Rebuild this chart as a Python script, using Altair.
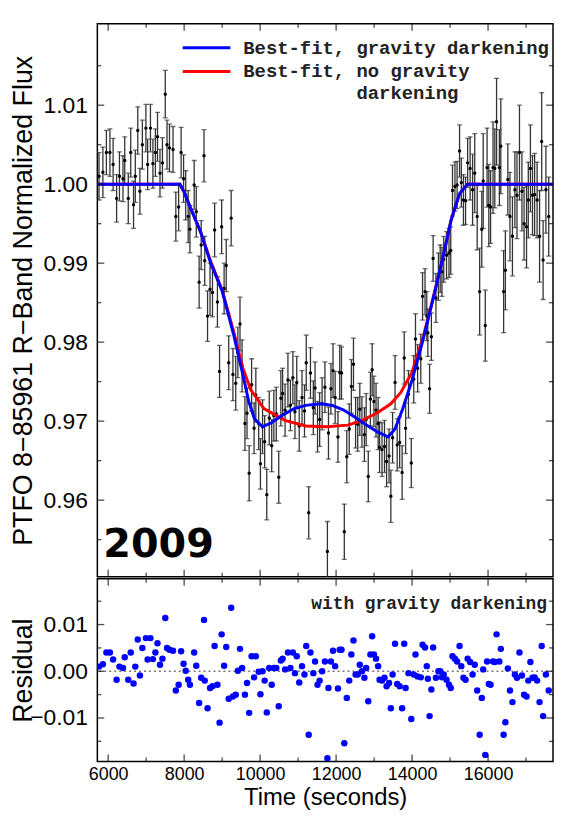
import altair as alt
import pandas as pd

# ---------------- data ----------------
TIME = [5759, 5861, 5953, 6046, 6130, 6222, 6297, 6390, 6436, 6529,
        6594, 6668, 6714, 6779, 6835, 6900, 6993, 7039, 7113, 7178,
        7243, 7299, 7364, 7429, 7503, 7549, 7614, 7707, 7781, 7855,
        7920, 7985, 8041, 8106, 8152, 8264, 8319, 8394, 8449, 8523,
        8542, 8616, 8681, 8746, 8802, 8876, 8932, 8987, 9052, 9108,
        9173, 9238, 9284, 9358, 9414, 9470, 9525, 9600, 9655, 9711,
        9776, 9841, 9887, 9962, 10008, 10064, 10119, 10175, 10240, 10305,
        10361, 10425, 10490, 10546, 10592, 10657, 10732, 10797, 10862, 10917,
        10964, 11029, 11103, 11168, 11214, 11279, 11325, 11400, 11446, 11511,
        11567, 11632, 11706, 11771, 11799, 11864, 11919, 11975, 12049, 12095,
        12142, 12216, 12281, 12346, 12402, 12457, 12513, 12569, 12624, 12680,
        12745, 12791, 12847, 12903, 12949, 12995, 13051, 13107, 13144, 13209,
        13274, 13329, 13394, 13441, 13487, 13552, 13608, 13673, 13738, 13793,
        13830, 13905, 13979, 14044, 14090, 14146, 14229, 14276, 14341, 14387,
        14415, 14461, 14508, 14554, 14628, 14693, 14740, 14786, 14833, 14907,
        14972, 15018, 15064, 15129, 15185, 15250, 15296, 15352, 15408, 15463,
        15528, 15593, 15649, 15714, 15779, 15835, 15872, 15927, 15974, 16020,
        16066, 16131, 16178, 16224, 16298, 16336, 16410, 16456, 16521, 16577,
        16642, 16706, 16762, 16827, 16892, 16948, 17013, 17059, 17115, 17170,
        17226, 17291, 17356, 17412, 17449, 17523, 17597]

FLUX = [1.0010, 1.0015, 1.0040, 1.0040, 1.0025, 0.9982, 1.0010, 1.0007, 1.0030, 0.9982,
        1.0040, 0.9974, 1.0010, 1.0068, 0.9991, 1.0050, 1.0071, 1.0025, 1.0071, 1.0026,
        1.0040, 1.0060, 1.0014, 1.0027, 1.0114, 1.0050, 1.0046, 1.0044, 0.9959, 0.9971,
        1.0040, 1.0007, 0.9986, 0.9959, 0.9943, 0.9999, 0.9965, 0.9876, 0.9923, 1.0036,
        0.9903, 0.9833, 0.9867, 0.9863, 0.9942, 0.9851, 0.9763, 0.9946, 0.9868, 0.9897,
        0.9774, 0.9957, 0.9759, 0.9748, 0.9787, 0.9823, 0.9770, 0.9697, 0.9710, 0.9634,
        0.9746, 0.9691, 0.9733, 0.9697, 0.9646, 0.9693, 0.9674, 0.9607, 0.9704, 0.9669,
        0.9707, 0.9709, 0.9629, 0.9729, 0.9735, 0.9714, 0.9752, 0.9720, 0.9755, 0.9712,
        0.9749, 0.9694, 0.9730, 0.9713, 0.9774, 0.9584, 0.9761, 0.9717, 0.9742, 0.9693,
        0.9702, 0.9722, 0.9743, 0.9535, 0.9685, 0.9741, 0.9764, 0.9730, 0.9680, 0.9762,
        0.9761, 0.9560, 0.9655, 0.9690, 0.9744, 0.9772, 0.9698, 0.9696, 0.9715, 0.9699,
        0.9683, 0.9702, 0.9630, 0.9728, 0.9765, 0.9725, 0.9714, 0.9697, 0.9667, 0.9664,
        0.9668, 0.9649, 0.9656, 0.9605, 0.9679, 0.9749, 0.9670, 0.9673, 0.9635, 0.9780,
        0.9691, 0.9734, 0.9647, 0.9753, 0.9804, 0.9767, 0.9779, 0.9858, 0.9864, 0.9833,
        0.9812, 0.9741, 0.9807, 0.9906, 0.9856, 0.9883, 0.9893, 0.9889, 0.9905, 0.9910,
        0.9913, 0.9916, 0.9992, 0.9997, 0.9999, 1.0042, 1.0002, 0.9980, 0.9979, 1.0027,
        1.0020, 0.9993, 1.0014, 0.9959, 0.9864, 0.9943, 1.0004, 0.9821, 1.0021, 0.9973,
        0.9971, 1.0021, 1.0020, 1.0079, 1.0021, 1.0048, 0.9864, 0.9891, 1.0006, 0.9959,
        0.9934, 0.9993, 0.9986, 1.0040, 0.9991, 0.9950, 0.9946, 0.9980, 1.0020, 0.9986,
        0.9987, 0.9980, 0.9934, 1.0054, 0.9904, 0.9993, 0.9959]

FLUX_ERR = [0.0030, 0.0032, 0.0028, 0.0030, 0.0033, 0.0030, 0.0031, 0.0029, 0.0030, 0.0032,
            0.0031, 0.0030, 0.0033, 0.0030, 0.0029, 0.0031, 0.0030, 0.0032, 0.0030, 0.0031,
            0.0030, 0.0031, 0.0030, 0.0032, 0.0030, 0.0031, 0.0030, 0.0029, 0.0031, 0.0030,
            0.0032, 0.0030, 0.0031, 0.0033, 0.0030, 0.0031, 0.0032, 0.0033, 0.0031, 0.0033,
            0.0031, 0.0032, 0.0033, 0.0031, 0.0034, 0.0032, 0.0033, 0.0034, 0.0032, 0.0033,
            0.0034, 0.0035, 0.0033, 0.0034, 0.0032, 0.0034, 0.0033, 0.0034, 0.0032, 0.0035,
            0.0033, 0.0032, 0.0034, 0.0033, 0.0032, 0.0034, 0.0033, 0.0032, 0.0034, 0.0033,
            0.0032, 0.0034, 0.0033, 0.0035, 0.0032, 0.0033, 0.0034, 0.0032, 0.0033, 0.0034,
            0.0033, 0.0032, 0.0034, 0.0033, 0.0035, 0.0033, 0.0032, 0.0034, 0.0033, 0.0032,
            0.0034, 0.0033, 0.0032, 0.0038, 0.0033, 0.0032, 0.0034, 0.0033, 0.0032, 0.0034,
            0.0033, 0.0035, 0.0033, 0.0032, 0.0034, 0.0033, 0.0032, 0.0034, 0.0033, 0.0032,
            0.0034, 0.0033, 0.0032, 0.0034, 0.0033, 0.0032, 0.0034, 0.0033, 0.0032, 0.0034,
            0.0033, 0.0032, 0.0034, 0.0033, 0.0032, 0.0034, 0.0033, 0.0032, 0.0034, 0.0033,
            0.0032, 0.0030, 0.0031, 0.0030, 0.0032, 0.0030, 0.0031, 0.0030, 0.0029, 0.0031,
            0.0030, 0.0031, 0.0030, 0.0029, 0.0031, 0.0030, 0.0030, 0.0031, 0.0029, 0.0030,
            0.0031, 0.0030, 0.0032, 0.0031, 0.0030, 0.0033, 0.0031, 0.0032, 0.0030, 0.0031,
            0.0040, 0.0045, 0.0050, 0.0042, 0.0055, 0.0048, 0.0060, 0.0045, 0.0050, 0.0052,
            0.0046, 0.0058, 0.0050, 0.0055, 0.0048, 0.0060, 0.0052, 0.0050, 0.0045, 0.0056,
            0.0050, 0.0048, 0.0055, 0.0060, 0.0050, 0.0046, 0.0052, 0.0048, 0.0055, 0.0050,
            0.0052, 0.0048, 0.0058, 0.0062, 0.0050, 0.0055, 0.0050]

RESID = [0.0010, 0.0015, 0.0040, 0.0040, 0.0025, -0.0018, 0.0010, 0.0007, 0.0030, -0.0018,
         0.0040, -0.0026, 0.0010, 0.0068, -0.0009, 0.0050, 0.0071, 0.0025, 0.0071, 0.0026,
         0.0040, 0.0060, 0.0014, 0.0027, 0.0114, 0.0050, 0.0046, 0.0044, -0.0041, -0.0029,
         0.0043, 0.0016, 0.0001, -0.0018, -0.0029, 0.0040, 0.0012, -0.0068, -0.0014, 0.0110,
         -0.0020, -0.0079, -0.0036, -0.0032, 0.0054, -0.0029, -0.0110, 0.0079, 0.0012, 0.0052,
         -0.0059, 0.0136, -0.0054, -0.0050, 0.0001, 0.0048, 0.0007, -0.0050, -0.0025, -0.0089,
         0.0032, -0.0013, 0.0032, -0.0001, -0.0049, 0.0000, -0.0020, -0.0088, 0.0007, -0.0029,
         0.0007, 0.0007, -0.0075, 0.0023, 0.0027, 0.0004, 0.0040, 0.0007, 0.0040, -0.0004,
         0.0032, -0.0024, 0.0011, -0.0007, 0.0054, -0.0136, 0.0040, -0.0004, 0.0021, -0.0029,
         -0.0020, 0.0000, 0.0021, -0.0186, -0.0036, 0.0021, 0.0044, 0.0011, -0.0037, 0.0046,
         0.0046, -0.0154, -0.0057, -0.0020, 0.0036, 0.0066, -0.0007, -0.0007, 0.0014, 0.0000,
         -0.0014, 0.0007, -0.0064, 0.0036, 0.0075, 0.0036, 0.0027, 0.0011, -0.0018, -0.0020,
         -0.0014, -0.0032, -0.0025, -0.0079, -0.0007, 0.0059, -0.0027, -0.0032, -0.0079, 0.0059,
         -0.0036, -0.0004, -0.0102, -0.0007, 0.0036, -0.0011, -0.0013, 0.0057, 0.0051, 0.0011,
         -0.0016, -0.0096, -0.0039, 0.0051, -0.0014, 0.0000, 0.0000, -0.0013, -0.0007, -0.0018,
         -0.0029, -0.0036, 0.0032, 0.0027, 0.0021, 0.0054, 0.0011, -0.0014, -0.0018, 0.0027,
         0.0020, -0.0007, 0.0014, -0.0041, -0.0136, -0.0057, 0.0004, -0.0179, 0.0021, -0.0027,
         -0.0029, 0.0021, 0.0020, 0.0079, 0.0021, 0.0048, -0.0136, -0.0109, 0.0006, -0.0041,
         -0.0066, -0.0007, -0.0014, 0.0040, -0.0009, -0.0050, -0.0054, -0.0020, 0.0020, -0.0014,
         -0.0013, -0.0020, -0.0066, 0.0054, -0.0096, -0.0007, -0.0041]

# best-fit model, gravity darkening (blue)
BLUE_T = [5715, 7890, 8000, 8150, 8430, 8700, 9000, 9300, 9540, 9700, 9850, 10060,
          10300, 10600, 10900, 11200, 11600, 11900, 12200, 12500, 12800, 13100, 13370,
          13550, 13750, 14000, 14300, 14560, 14800, 15030, 15250, 15460, 17710]
BLUE_F = [1.0000, 1.0000, 0.9990, 0.9972, 0.9940, 0.9900, 0.9865, 0.9810, 0.9760, 0.9725,
          0.9703, 0.9693, 0.9698, 0.9708, 0.9716, 0.9720, 0.9722, 0.9720, 0.9714, 0.9705,
          0.9695, 0.9686, 0.9680, 0.9690, 0.9715, 0.9752, 0.9805, 0.9856, 0.9905, 0.9955,
          0.9988, 1.0000, 1.0000]

# best-fit model, no gravity darkening (red)
RED_T = [5715, 7890, 8000, 8150, 8430, 8700, 9000, 9300, 9540, 9750, 10100, 10650,
         11200, 11760, 12300, 12650, 13100, 13440, 13700, 14000, 14300, 14560, 14800,
         15030, 15250, 15460, 17710]
RED_F = [1.0000, 1.0000, 0.9990, 0.9972, 0.9940, 0.9902, 0.9866, 0.9814, 0.9768, 0.9740,
         0.9716, 0.9701, 0.9694, 0.9693, 0.9695, 0.9700, 0.9711, 0.9722, 0.9736, 0.9762,
         0.9808, 0.9857, 0.9905, 0.9955, 0.9988, 1.0000, 1.0000]

X_TICKS = [6000, 8000, 10000, 12000, 14000, 16000]
X_MINOR = [7000, 9000, 11000, 13000, 15000, 17000]
FLUX_TICKS = [0.96, 0.97, 0.98, 0.99, 1.00, 1.01]
FLUX_MINOR = [0.955, 0.965, 0.975, 0.985, 0.995, 1.005, 1.015]
RES_TICKS = [-0.01, 0.00, 0.01]
RES_MINOR = [-0.015, -0.005, 0.005, 0.015]
ZERO_LEVEL = [0.0]
LEGEND_LABELS = ["Best-fit, gravity darkening", "Best-fit, no gravity", "darkening"]
YEAR_LABEL = "2009"
RES_LABEL = "with gravity darkening"

X_DOMAIN = [5715, 17710]
FLUX_DOMAIN = [0.9503, 1.0203]
RES_DOMAIN = [-0.0193, 0.0198]

# ---------------- chart ----------------
FONT = "Liberation Sans"
MONO = "Liberation Mono"
TICK = 7
MINOR = 4
W = 459
H_TOP = 557
H_BOT = 184

df = pd.DataFrame({"t": TIME, "flux": FLUX, "err": FLUX_ERR, "resid": RESID})
df["lo"] = df["flux"] - df["err"]
df["hi"] = df["flux"] + df["err"]
blue_df = pd.DataFrame({"t": BLUE_T, "f": BLUE_F})
red_df = pd.DataFrame({"t": RED_T, "f": RED_F})

xs = alt.Scale(domain=X_DOMAIN, nice=False, zero=False)
ys = alt.Scale(domain=FLUX_DOMAIN, nice=False, zero=False)
ys2 = alt.Scale(domain=RES_DOMAIN, nice=False, zero=False)


def left_axis(values, title):
    return alt.Axis(orient="left", values=values, format=".2f", labels=True,
                    labelFontSize=23, labelPadding=10, ticks=False, domain=False,
                    grid=False, title=title, titleFontSize=27, titlePadding=2,
                    minExtent=58, maxExtent=58)


AX_X_TOP = alt.Axis(orient="bottom", values=X_TICKS, labels=False, ticks=False,
                    domain=False, grid=False, title="", titlePadding=0,
                    minExtent=0, maxExtent=0)
AX_X_BOT = alt.Axis(orient="bottom", values=X_TICKS, format="d", labels=True,
                    labelFontSize=18, labelPadding=4, ticks=False, domain=False,
                    grid=False, title="Time (seconds)", titleFontSize=24,
                    titlePadding=2)
AX_Y_TOP = left_axis(FLUX_TICKS, "PTFO 8\u221285961 R\u2212Band Normalized Flux")
AX_Y_BOT = left_axis(RES_TICKS, "Residual")


def tick_layer(vals, size, edge, xaxis, yscale, yaxis, height):
    d = pd.DataFrame({"v": vals})
    if edge in ("top", "bottom"):
        ypos = size / 2 if edge == "top" else height - size / 2
        return alt.Chart(d).mark_tick(orient="vertical", size=size, thickness=1.3,
                                      color="black").encode(
            x=alt.X("v:Q", scale=xs, axis=xaxis), y=alt.value(ypos))
    xpos = size / 2 if edge == "left" else W - size / 2
    return alt.Chart(d).mark_tick(orient="horizontal", size=size, thickness=1.3,
                                  color="black").encode(
        y=alt.Y("v:Q", scale=yscale, axis=yaxis), x=alt.value(xpos))


def frame_ticks(xaxis, yscale, yaxis, ymajor, yminor, height):
    """inward major and minor ticks on all four edges"""
    layers = []
    for edge in ("top", "bottom"):
        layers.append(tick_layer(X_TICKS, TICK, edge, xaxis, yscale, yaxis, height))
        layers.append(tick_layer(X_MINOR, MINOR, edge, xaxis, yscale, yaxis, height))
    for edge in ("left", "right"):
        layers.append(tick_layer(ymajor, TICK, edge, xaxis, yscale, yaxis, height))
        layers.append(tick_layer(yminor, MINOR, edge, xaxis, yscale, yaxis, height))
    return layers


base = alt.Chart(df)
ERR_COLOR = "#333333"
X_T = alt.X("t:Q", scale=xs, axis=AX_X_TOP)

bars = base.mark_rule(color=ERR_COLOR, strokeWidth=1.3, clip=True).encode(
    x=X_T, y=alt.Y("lo:Q", scale=ys, axis=AX_Y_TOP), y2="hi:Q")
cap_lo = base.mark_tick(color=ERR_COLOR, thickness=1.3, size=5, orient="horizontal",
                        clip=True).encode(x=X_T, y=alt.Y("lo:Q", scale=ys, axis=AX_Y_TOP))
cap_hi = base.mark_tick(color=ERR_COLOR, thickness=1.3, size=5, orient="horizontal",
                        clip=True).encode(x=X_T, y=alt.Y("hi:Q", scale=ys, axis=AX_Y_TOP))
dots = base.mark_circle(size=12, color="black", opacity=1, clip=True).encode(
    x=X_T, y=alt.Y("flux:Q", scale=ys, axis=AX_Y_TOP))

red_line = alt.Chart(red_df).mark_line(color="#ff0000", strokeWidth=3, clip=True).encode(
    x=X_T, y=alt.Y("f:Q", scale=ys, axis=AX_Y_TOP))
blue_line = alt.Chart(blue_df).mark_line(color="#0000ff", strokeWidth=3, clip=True).encode(
    x=X_T, y=alt.Y("f:Q", scale=ys, axis=AX_Y_TOP))

one = pd.DataFrame({"k": [0]})
leg_blue = alt.Chart(one).mark_rule(color="#0000ff", strokeWidth=3).encode(
    x=alt.value(86), x2=alt.value(134), y=alt.value(24))
leg_red = alt.Chart(one).mark_rule(color="#ff0000", strokeWidth=3).encode(
    x=alt.value(86), x2=alt.value(134), y=alt.value(48))
leg_t1 = alt.Chart(one).mark_text(font=MONO, fontSize=19, fontWeight="bold", align="left",
                                  baseline="middle", color="#222222").encode(
    x=alt.value(147), y=alt.value(24), text=alt.value(LEGEND_LABELS[0]))
leg_t2 = alt.Chart(one).mark_text(font=MONO, fontSize=19, fontWeight="bold", align="left",
                                  baseline="middle", color="#222222").encode(
    x=alt.value(147), y=alt.value(48), text=alt.value(LEGEND_LABELS[1]))
leg_t3 = alt.Chart(one).mark_text(font=MONO, fontSize=19, fontWeight="bold", align="left",
                                  baseline="middle", color="#222222").encode(
    x=alt.value(261), y=alt.value(70), text=alt.value(LEGEND_LABELS[2]))
year = alt.Chart(one).mark_text(font="DejaVu Sans", fontSize=40, fontWeight="bold",
                                align="left", baseline="alphabetic", color="black").encode(
    x=alt.value(6), y=alt.value(537), text=alt.value(YEAR_LABEL))

top = alt.layer(bars, cap_lo, cap_hi, dots, red_line, blue_line,
                *frame_ticks(AX_X_TOP, ys, AX_Y_TOP, FLUX_TICKS, FLUX_MINOR, H_TOP),
                leg_blue, leg_red, leg_t1, leg_t2, leg_t3, year).properties(
    width=W, height=H_TOP)

X_B = alt.X("t:Q", scale=xs, axis=AX_X_BOT)
zero_df = pd.DataFrame({"z": ZERO_LEVEL})
zero_line = alt.Chart(zero_df).mark_rule(color="#777777", strokeDash=[2, 3],
                                         strokeWidth=1.3).encode(
    y=alt.Y("z:Q", scale=ys2, axis=AX_Y_BOT))
res_pts = base.mark_circle(size=42, color="#0000ff", opacity=1, clip=True).encode(
    x=X_B, y=alt.Y("resid:Q", scale=ys2, axis=AX_Y_BOT))
res_text = alt.Chart(one).mark_text(font=MONO, fontSize=18, fontWeight="bold", align="right",
                                    baseline="middle", color="#222222").encode(
    x=alt.value(453), y=alt.value(25), text=alt.value(RES_LABEL))

bottom = alt.layer(zero_line, res_pts,
                   *frame_ticks(AX_X_BOT, ys2, AX_Y_BOT, RES_TICKS, RES_MINOR, H_BOT),
                   res_text).properties(width=W, height=H_BOT)

chart = alt.vconcat(top, bottom, spacing=0).properties(
    padding={"left": 1, "top": 12, "right": 0, "bottom": 0}
).configure_view(stroke="black", strokeWidth=1.5).configure_axis(
    labelFont=FONT, titleFont=FONT, labelColor="black", titleColor="black",
    titleFontWeight="normal")

chart.save("out.html", embed_options={"renderer": "svg", "actions": False})
